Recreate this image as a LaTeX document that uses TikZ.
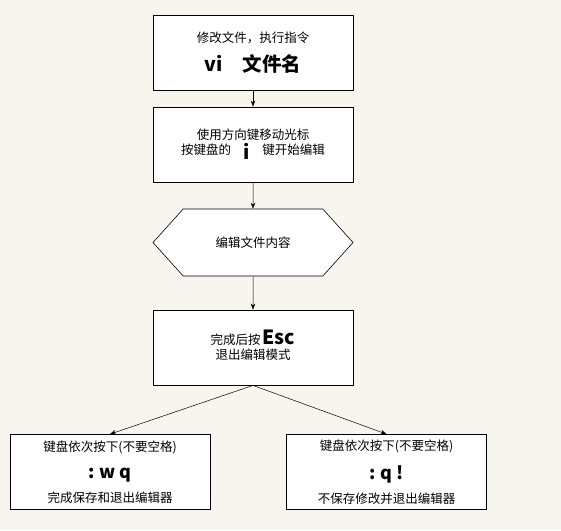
\documentclass[tikz,border=0pt]{standalone}
\usepackage{fontspec}
\setmainfont{Noto Sans CJK SC}
\usepackage{xcolor}
\usepackage{tikz}
\usetikzlibrary{shapes.symbols,arrows.meta}
\definecolor{paper}{HTML}{F8F5EE}
\definecolor{ink}{HTML}{000000}
\tikzset{
  stepbox/.style={draw=ink, line width=0.8pt, fill=white, minimum width=200pt, minimum height=75pt, align=center, inner sep=2pt, font=\fontsize{12.5}{15}\selectfont},
  hexbox/.style={signal, signal to=west and east, signal pointer angle=96, draw=ink, line width=0.6pt, fill=white, minimum width=200pt, minimum height=67pt, inner sep=0pt, font=\fontsize{12.5}{15}\selectfont},
  flow/.style={draw=ink, line width=0.5pt, -{Stealth[length=6pt,width=4.5pt]}},
}
\newcommand{\keytxt}[1]{{\fontsize{19.5}{20}\selectfont\bfseries #1}}
\newcommand{\cmdtxt}[1]{{\fontsize{18}{20}\selectfont\bfseries #1}}

\begin{document}
\begin{tikzpicture}[x=1pt,y=-1pt]
  \fill[paper] (0,0) rectangle (561,530);
  \useasboundingbox (0,0) rectangle (561,530);

  \node[stepbox] (open) at (253,52.5) {修改文件，执行指令\\[9pt]\keytxt{vi\quad 文件名}};
  \node[stepbox] (move) at (253,144.5) {使用方向键移动光标\\按键盘的\quad\raisebox{-5pt}{\smash{\keytxt{i}}}\quad 键开始编辑};
  \node[hexbox] (edit) at (253,242.5) {编辑文件内容};
  \node[stepbox] (esc) at (253,347.5) {完成后按\,\smash{\keytxt{Esc}}\\退出编辑模式};

  \node[stepbox] (save) at (110,472) {键盘依次按下(不要空格)\\[12pt]\cmdtxt{:\ w\ q}\\[9pt]完成保存和退出编辑器};
  \node[stepbox] (quit) at (386.5,472) {键盘依次按下(不要空格)\\[12pt]\cmdtxt{:\ q\ !}\\[9pt]不保存修改并退出编辑器};

  \draw[flow] (open) -- (move);
  \draw[flow] (move) -- (edit);
  \draw[flow] (edit) -- (esc);
  \draw[flow] (esc.south) -- (save.north);
  \draw[flow] (esc.south) -- (quit.north);
\end{tikzpicture}
\end{document}
